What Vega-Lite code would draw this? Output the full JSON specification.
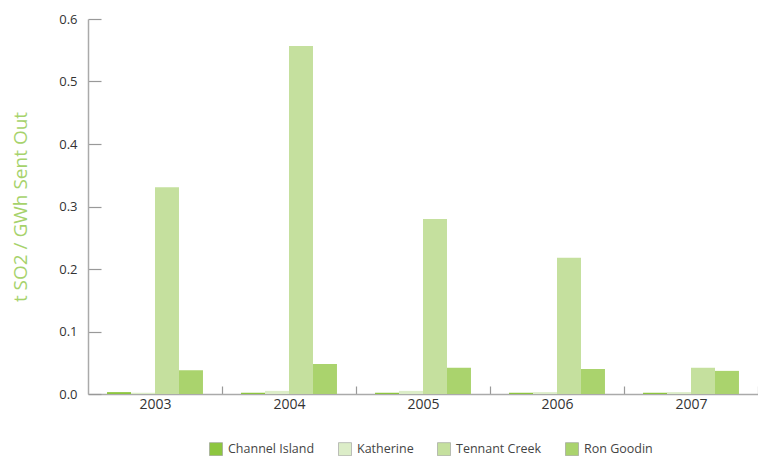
{
  "$schema": "https://vega.github.io/schema/vega-lite/v6.json",
  "width": 670,
  "height": 375,
  "autosize": {"type": "none"},
  "padding": {"left": 88, "top": 19, "right": 0, "bottom": 62},
  "background": "white",
  "config": {
    "view": {"stroke": null},
    "font": "Open Sans"
  },
  "data": {
    "values": [
      {"year": "2003", "station": "Channel Island", "value": 0.003},
      {"year": "2003", "station": "Katherine", "value": 0.002},
      {"year": "2003", "station": "Tennant Creek", "value": 0.331},
      {"year": "2003", "station": "Ron Goodin", "value": 0.038},
      {"year": "2004", "station": "Channel Island", "value": 0.002},
      {"year": "2004", "station": "Katherine", "value": 0.005},
      {"year": "2004", "station": "Tennant Creek", "value": 0.557},
      {"year": "2004", "station": "Ron Goodin", "value": 0.048},
      {"year": "2005", "station": "Channel Island", "value": 0.002},
      {"year": "2005", "station": "Katherine", "value": 0.005},
      {"year": "2005", "station": "Tennant Creek", "value": 0.28},
      {"year": "2005", "station": "Ron Goodin", "value": 0.042},
      {"year": "2006", "station": "Channel Island", "value": 0.002},
      {"year": "2006", "station": "Katherine", "value": 0.003},
      {"year": "2006", "station": "Tennant Creek", "value": 0.218},
      {"year": "2006", "station": "Ron Goodin", "value": 0.04},
      {"year": "2007", "station": "Channel Island", "value": 0.002},
      {"year": "2007", "station": "Katherine", "value": 0.003},
      {"year": "2007", "station": "Tennant Creek", "value": 0.042},
      {"year": "2007", "station": "Ron Goodin", "value": 0.037}
    ]
  },
  "mark": {"type": "bar"},
  "encoding": {
    "x": {
      "field": "year",
      "type": "nominal",
      "scale": {"paddingInner": 0.284, "paddingOuter": 0.142},
      "axis": {
        "title": null,
        "labelAngle": 0,
        "labelFontSize": 14,
        "labelColor": "#333333",
        "labelPadding": 11,
        "labelOffset": -67,
        "domainColor": "#aaaaaa",
        "domainWidth": 1.5,
        "tickOffset": 67,
        "tickSize": -8,
        "tickColor": "#999999",
        "tickWidth": 1.2
      }
    },
    "xOffset": {
      "field": "station",
      "type": "nominal",
      "sort": ["Channel Island", "Katherine", "Tennant Creek", "Ron Goodin"],
      "scale": {"paddingInner": 0, "paddingOuter": 0}
    },
    "y": {
      "field": "value",
      "type": "quantitative",
      "scale": {"domain": [0, 0.6], "nice": false},
      "axis": {
        "title": "t SO2 / GWh Sent Out",
        "titleColor": "#a6d26b",
        "titleFontSize": 19,
        "titleFontWeight": "normal",
        "titlePadding": 28,
        "values": [0, 0.1, 0.2, 0.3, 0.4, 0.5, 0.6],
        "format": ".1f",
        "labelFontSize": 13,
        "labelColor": "#333333",
        "labelPadding": 24,
        "grid": false,
        "domainColor": "#aaaaaa",
        "domainWidth": 1.5,
        "tickSize": -13,
        "tickColor": "#999999",
        "tickWidth": 1.2
      }
    },
    "color": {
      "field": "station",
      "type": "nominal",
      "sort": ["Channel Island", "Katherine", "Tennant Creek", "Ron Goodin"],
      "scale": {
        "domain": ["Channel Island", "Katherine", "Tennant Creek", "Ron Goodin"],
        "range": ["#8dc63f", "#dcedc8", "#c5e09e", "#aad36d"]
      },
      "legend": {
        "title": null,
        "orient": "none",
        "legendX": 121,
        "legendY": 423,
        "direction": "horizontal",
        "symbolType": "square",
        "symbolSize": 169,
        "symbolStrokeColor": "#999999",
        "symbolStrokeWidth": 0.6,
        "labelFontSize": 12.5,
        "labelColor": "#444444",
        "columnPadding": 22,
        "labelOffset": 5
      }
    }
  }
}
